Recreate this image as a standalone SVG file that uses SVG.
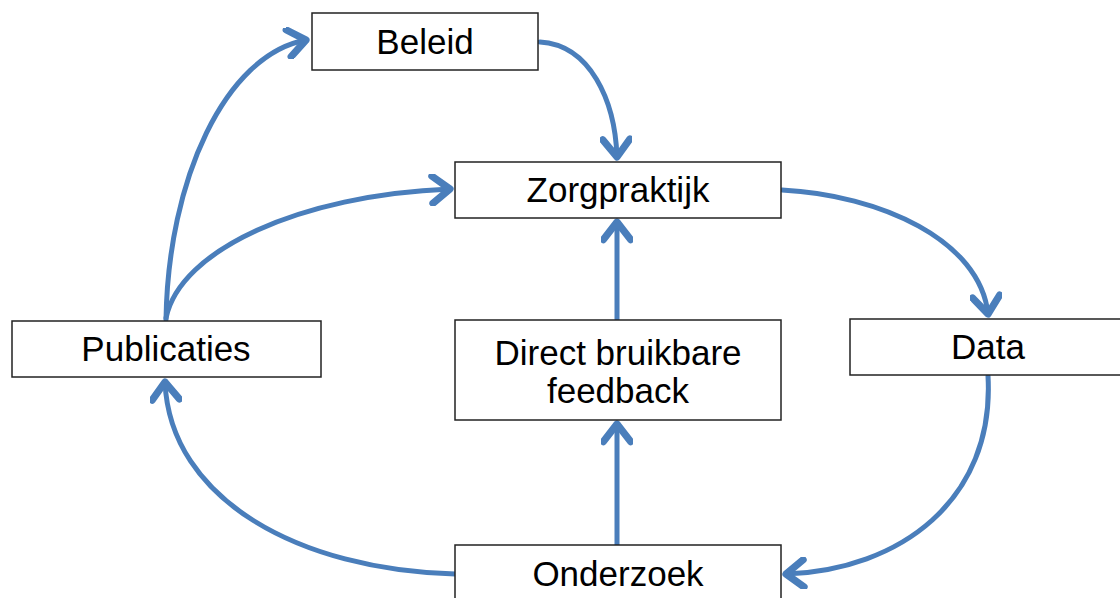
<svg xmlns="http://www.w3.org/2000/svg" width="1120" height="598" viewBox="0 0 1120 598">
<style>
.box{fill:#fff;stroke:#222;stroke-width:1.5}
.lbl{font-family:"Liberation Sans",Arial,sans-serif;font-size:35px;fill:#000;text-anchor:middle}
.con{fill:none;stroke:#4a7ebb;stroke-width:5;stroke-linecap:round}
</style>
<defs>
<marker id="ah" markerUnits="userSpaceOnUse" markerWidth="32" markerHeight="32" refX="14" refY="10" orient="auto" viewBox="0 0 20 20">
<path d="M3,1.5 L14,10 L3,18.5" fill="none" stroke="#4a7ebb" stroke-width="4.5" stroke-linecap="round" stroke-linejoin="round"/>
</marker>
</defs>
<rect width="1120" height="598" fill="#fff"/>
<g id="connectors">
<path class="con" d="M166,320 C168,180 225,55 306,40" marker-end="url(#ah)"/>
<path class="con" d="M166,318 C180,250 300,195 450,189" marker-end="url(#ah)"/>
<path class="con" d="M540,42 C590,45 615,100 617,157" marker-end="url(#ah)"/>
<path class="con" d="M782,190 C880,195 980,240 988,314" marker-end="url(#ah)"/>
<path class="con" d="M988,376 C995,500 900,570 786,574" marker-end="url(#ah)"/>
<path class="con" d="M455,574 C300,570 170,500 165,382" marker-end="url(#ah)"/>
<path class="con" d="M617,545 L617,424" marker-end="url(#ah)"/>
<path class="con" d="M617,319 L617,222" marker-end="url(#ah)"/>
</g>
<g id="beleid"><rect class="box" x="312" y="13" width="226" height="57"/><text class="lbl" x="425" y="54">Beleid</text></g>
<g id="zorgpraktijk"><rect class="box" x="455" y="162" width="326" height="56"/><text class="lbl" x="618" y="202">Zorgpraktijk</text></g>
<g id="publicaties"><rect class="box" x="12" y="321" width="309" height="56"/><text class="lbl" x="166" y="361">Publicaties</text></g>
<g id="feedback"><rect class="box" x="455" y="320" width="326" height="100"/><text class="lbl" x="618" y="365">Direct bruikbare</text><text class="lbl" x="618" y="403">feedback</text></g>
<g id="data"><rect class="box" x="850" y="319" width="272" height="56"/><text class="lbl" x="988" y="359">Data</text></g>
<g id="onderzoek"><rect class="box" x="455" y="545" width="326" height="60"/><text class="lbl" x="618" y="586">Onderzoek</text></g>
</svg>
